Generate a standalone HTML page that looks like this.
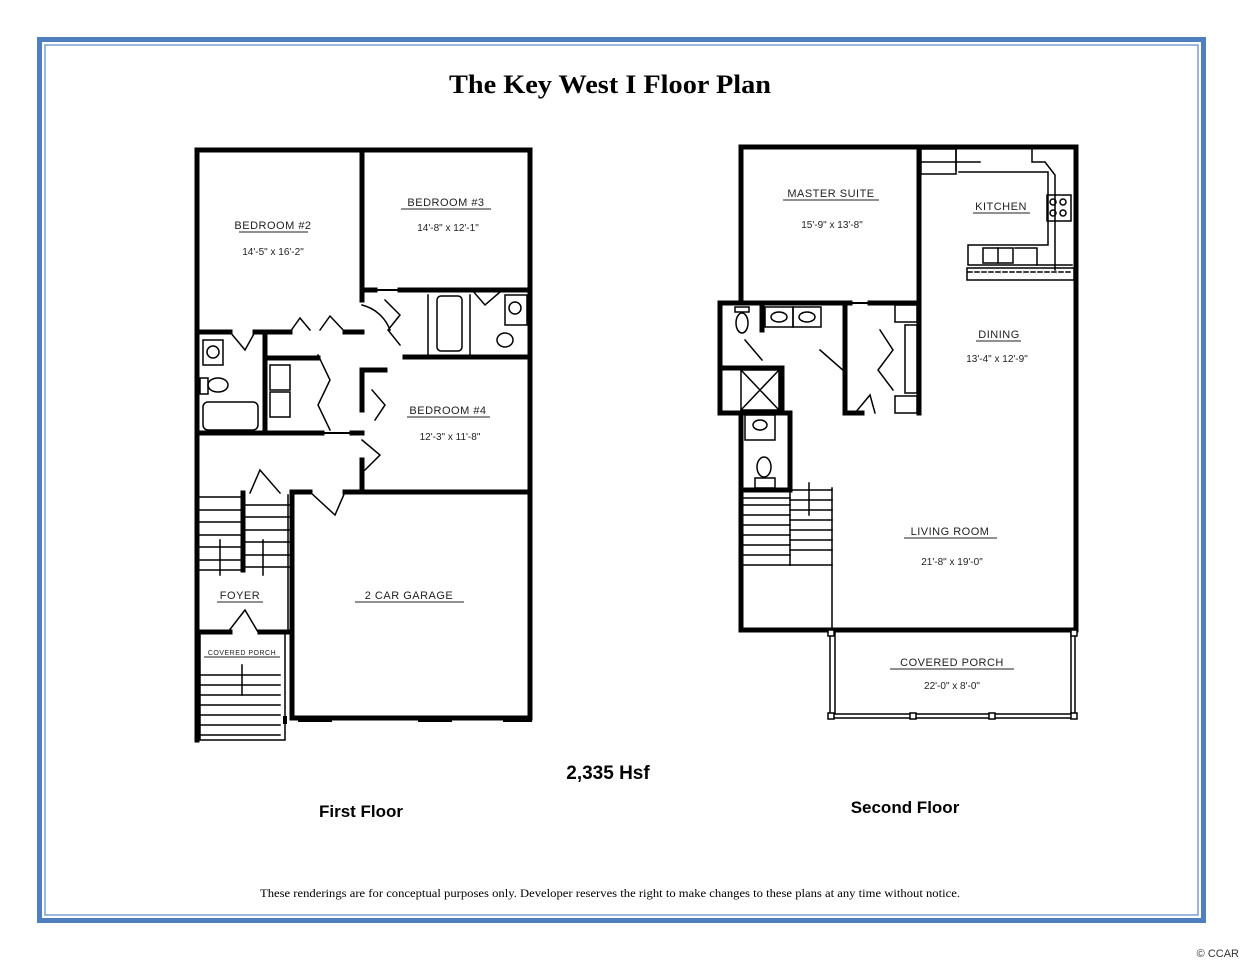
<!DOCTYPE html>
<html><head><meta charset="utf-8"><style>
html,body{margin:0;padding:0;background:#fff;}
svg{display:block;}
.lbl{font-family:"Liberation Sans",sans-serif;font-size:11px;letter-spacing:0.5px;fill:#222;}
.dim{font-family:"Liberation Sans",sans-serif;font-size:10px;fill:#222;}
</style></head><body>
<svg width="1242" height="960" viewBox="0 0 1242 960" xmlns="http://www.w3.org/2000/svg">
<rect width="1242" height="960" fill="#fff"/>
<rect x="39.5" y="39.5" width="1164" height="881" fill="none" stroke="#4f7fbf" stroke-width="5"/>
<rect x="45" y="45" width="1153" height="870" fill="none" stroke="#7a9fd0" stroke-width="1.5"/>

<text x="610" y="93" text-anchor="middle" font-family="Liberation Serif,serif" font-weight="bold" font-size="26" textLength="322" lengthAdjust="spacingAndGlyphs">The Key West I Floor Plan</text>

<g stroke="#000" fill="none" stroke-linecap="square">
<g stroke-width="5">
<path d="M197 150 H530 V718"/>
<path d="M197 150 V740"/>
<path d="M362 150 V300"/>
<path d="M197 332 H230 M255 332 H290 M345 332 H362"/>
<path d="M265 332 V433"/>
<path d="M197 433 H322 M352 433 H362"/>
<path d="M362 290 H375 M400 290 H530"/>
<path d="M362 370 V410 M362 460 V492"/>
<path d="M362 370 H385"/>
<path d="M405 357 H530"/>
<path d="M265 358 H318"/>
<path d="M292 492 H310 M345 492 H530"/>
<path d="M292 492 V718 H530"/>
<path d="M243 493 V570"/>
<path d="M197 632 H230 M260 632 H292"/>
</g>
<g stroke-width="1.5">
<path d="M230 332 L245 350 L255 332 M290 332 L300 318 L310 330 M320 330 L330 316 L345 332"/>
<path d="M318 355 L330 380 L318 405 L330 430"/>
<path d="M362 305 A40 40 0 0 1 390 330"/>
<path d="M385 300 L400 315 L388 330 L400 345"/>
<path d="M372 390 L385 405 L375 420"/>
<path d="M472 290 L485 305 L500 292"/>
<path d="M362 440 L380 455 L365 470"/>
<path d="M310 492 L335 515 L345 492"/>
<path d="M250 493 L260 470 L280 493"/>
<path d="M228 632 L245 610 L258 632"/>
<rect x="203" y="340" width="20" height="25"/><circle cx="213" cy="352" r="6"/>
<ellipse cx="218" cy="385" rx="10" ry="7"/><rect x="200" y="378" width="8" height="16"/>
<rect x="203" y="402" width="55" height="28" rx="5"/>
<rect x="270" y="365" width="20" height="25"/><rect x="270" y="392" width="20" height="25"/>
<rect x="437" y="296" width="25" height="55" rx="4"/>
<path d="M428 295 V355 M470 295 V355"/>
<rect x="505" y="295" width="22" height="30"/><circle cx="515" cy="308" r="6"/>
<ellipse cx="505" cy="340" rx="8" ry="7"/>
<path d="M200 497 H243 M200 510 H243 M200 522 H243 M200 535 H243 M200 547 H243 M200 560 H243 M200 570 H243"/>
<path d="M243 505 H292 M243 517 H292 M243 530 H292 M243 542 H292 M243 555 H292 M243 567 H292"/>
<path d="M288 495 V632 M220 540 V575 M263 540 V575"/>
<path d="M200 675 H280 M200 685 H280 M200 695 H280 M200 705 H280 M200 715 H280 M200 725 H280 M200 735 H280"/>
<path d="M200 740 H285 M285 632 V740 M200 635 V740"/>
<path d="M242 665 V695"/>
</g>
<path d="M375 290 H400 M322 433 H352" stroke-width="2" stroke-dasharray="3 2"/>
<path d="M285 718 V722 M300 720 H330 M420 720 H450 M505 720 H530" stroke-width="4"/>

<g stroke-width="5">
<path d="M741 147 H1076 V630"/>
<path d="M741 147 V300"/>
<path d="M741 630 H1076"/>
<path d="M741 490 V630"/>
<path d="M919 147 V303"/>
<path d="M720 303 H850 M870 303 H919"/>
<path d="M720 303 V413 H790"/>
<path d="M850 413 H862"/>
<path d="M762 303 V330 M845 303 V413 M919 303 V413"/>
<path d="M720 368 H782 V413"/>
<path d="M741 413 V490 H790 V413"/>
</g>
<g stroke-width="1.5">
<rect x="921" y="149" width="35" height="25"/>
<path d="M921 162 H980 M956 149 V170 M1032 149 V162 H1045 L1055 175 V270"/>
<path d="M959 172 H1048 V245 H968 V265 H1072"/>
<rect x="1047" y="195" width="24" height="26"/><circle cx="1053" cy="202" r="3"/><circle cx="1063" cy="202" r="3"/><circle cx="1053" cy="213" r="3"/><circle cx="1063" cy="213" r="3"/>
<rect x="983" y="248" width="30" height="15"/><path d="M998 248 V263 M1015 248 H1037 V265"/>
<rect x="967" y="268" width="107" height="12"/>
<path d="M968 272 H1072" stroke-dasharray="4 3"/>
<rect x="765" y="307" width="28" height="20"/><rect x="793" y="307" width="28" height="20"/>
<ellipse cx="779" cy="317" rx="8" ry="5"/><ellipse cx="807" cy="317" rx="8" ry="5"/>
<rect x="735" y="307" width="14" height="5"/><ellipse cx="742" cy="323" rx="6" ry="10"/>
<path d="M745 340 L762 360 M820 350 L845 372"/>
<rect x="741" y="370" width="38" height="40"/><path d="M741 370 L779 410 M779 370 L741 410"/>
<rect x="895" y="305" width="22" height="17"/><rect x="895" y="396" width="22" height="17"/>
<rect x="905" y="325" width="12" height="68"/>
<path d="M880 330 L893 350 L878 370 L893 390"/>
<path d="M855 413 L870 395 L875 413"/>
<rect x="745" y="415" width="30" height="25"/><ellipse cx="760" cy="425" rx="7" ry="5"/>
<ellipse cx="764" cy="467" rx="7" ry="10"/><rect x="755" y="478" width="20" height="10"/>
<path d="M743 490 H790 M743 498 H790 M743 505 H790 M743 515 H790 M743 525 H790 M743 535 H790 M743 545 H790 M743 555 H790 M743 565 H790"/>
<path d="M790 490 H832 M790 500 H832 M790 510 H832 M790 520 H832 M790 530 H832 M790 540 H832 M790 550 H832 M790 565 H832"/>
<path d="M790 490 V565 M832 488 V630 M809 483 V515"/>
<path d="M830 632 V718 H1075 V632 M835 632 V714 H1071 V632"/>
<rect x="828" y="630" width="6" height="6" fill="#fff"/><rect x="1071" y="630" width="6" height="6" fill="#fff"/>
<rect x="828" y="713" width="6" height="6" fill="#fff"/><rect x="910" y="713" width="6" height="6" fill="#fff"/><rect x="989" y="713" width="6" height="6" fill="#fff"/><rect x="1071" y="713" width="6" height="6" fill="#fff"/>
</g>
<path d="M850 303 H870" stroke-width="2" stroke-dasharray="3 2"/>
</g>

<g class="lbl" text-anchor="middle">
<text x="273" y="229">BEDROOM #2</text><path d="M239 232 H308" stroke="#222"/>
<text x="446" y="206">BEDROOM #3</text><path d="M401 209 H491" stroke="#222"/>
<text x="448" y="414">BEDROOM #4</text><path d="M407 417 H490" stroke="#222"/>
<text x="240" y="599">FOYER</text><path d="M217 602 H263" stroke="#222"/>
<text x="409" y="599">2 CAR GARAGE</text><path d="M355 602 H464" stroke="#222"/>
<text x="242" y="655" style="font-size:7px">COVERED PORCH</text><path d="M204 657 H280" stroke="#222"/>
<text x="831" y="197">MASTER SUITE</text><path d="M783 200 H879" stroke="#222"/>
<text x="1001" y="210">KITCHEN</text><path d="M973 213 H1030" stroke="#222"/>
<text x="999" y="338">DINING</text><path d="M976 341 H1021" stroke="#222"/>
<text x="950" y="535">LIVING ROOM</text><path d="M904 538 H997" stroke="#222"/>
<text x="952" y="666">COVERED PORCH</text><path d="M890 669 H1014" stroke="#222"/>
</g>
<g class="dim" text-anchor="middle">
<text x="273" y="255">14'-5" x 16'-2"</text>
<text x="448" y="231">14'-8" x 12'-1"</text>
<text x="450" y="440">12'-3" x 11'-8"</text>
<text x="832" y="228">15'-9" x 13'-8"</text>
<text x="997" y="362">13'-4" x 12'-9"</text>
<text x="952" y="565">21'-8" x 19'-0"</text>
<text x="952" y="689">22'-0" x 8'-0"</text>
</g>

<text x="608" y="779" text-anchor="middle" font-family="Liberation Sans,sans-serif" font-weight="bold" font-size="19">2,335 Hsf</text>
<text x="361" y="817" text-anchor="middle" font-family="Liberation Sans,sans-serif" font-weight="bold" font-size="17">First Floor</text>
<text x="905" y="813" text-anchor="middle" font-family="Liberation Sans,sans-serif" font-weight="bold" font-size="17">Second Floor</text>
<text x="610" y="897" text-anchor="middle" font-family="Liberation Serif,serif" font-size="12" textLength="700" lengthAdjust="spacingAndGlyphs">These renderings are for conceptual purposes only.  Developer reserves the right to make changes to these plans at any time without notice.</text>
<text x="1239" y="957" text-anchor="end" font-family="Liberation Sans,sans-serif" font-size="11" fill="#333">© CCAR</text>
</svg>
</body></html>
